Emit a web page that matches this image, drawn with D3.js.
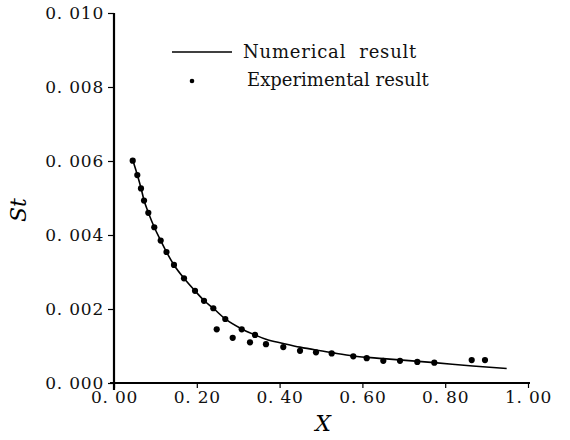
<!DOCTYPE html>
<html>
<head>
<meta charset="utf-8">
<script src="https://cdn.jsdelivr.net/npm/d3@7"></script>
<style>
  body { margin: 0; background: #fff; }
  svg text { font-family: "DejaVu Serif", "Liberation Serif", serif; }
</style>
</head>
<body>
<div id="vis"></div>
<script>
// numerical result (solid line)
const numX = [0.0452, 0.0563, 0.0652, 0.0725, 0.0829, 0.0973, 0.1128, 0.1268, 0.1449, 0.1691,
    0.1957, 0.2174, 0.2399, 0.2688, 0.3085, 0.3406, 0.3671, 0.4089, 0.4493, 0.4879,
    0.5258, 0.578, 0.6505, 0.7737, 0.8664, 0.9485];
const numY = [0.00603, 0.00563, 0.00527, 0.00494, 0.00461, 0.00421, 0.00385, 0.00354, 0.00319, 0.00283,
    0.00249, 0.00223, 0.00202, 0.00173, 0.00146, 0.00130, 0.00118, 0.00107, 0.00097, 0.00089,
    0.00082, 0.00073, 0.00066, 0.00055, 0.00046, 0.00039];

// experimental result (dots)
const expX = [0.0452, 0.0563, 0.0652, 0.0725, 0.0829, 0.0973, 0.1128, 0.1268, 0.1449, 0.1691,
    0.1957, 0.2174, 0.2399, 0.2688, 0.3085, 0.3406, 0.2481, 0.2867, 0.3285, 0.3671,
    0.4089, 0.4493, 0.4879, 0.5258, 0.578, 0.6104, 0.6505, 0.6908, 0.7326, 0.7737,
    0.864, 0.8961];
const expY = [0.00601, 0.00562, 0.00526, 0.00493, 0.00460, 0.00421, 0.00385, 0.00354, 0.00319, 0.00283,
    0.00249, 0.00222, 0.00202, 0.00173, 0.00145, 0.00130, 0.00145, 0.00122, 0.00110, 0.00105,
    0.00097, 0.00087, 0.00083, 0.00080, 0.00072, 0.00067, 0.00060, 0.00060, 0.00057, 0.00055,
    0.00062, 0.00062];

const xTicks = [0, 0.2, 0.4, 0.6, 0.8, 1.0];
const xTickLabels = ["0. 00", "0. 20", "0. 40", "0. 60", "0. 80", "1. 00"];
const yTicks = [0, 0.002, 0.004, 0.006, 0.008, 0.010];
const yTickLabels = ["0. 000", "0. 002", "0. 004", "0. 006", "0. 008", "0. 010"];

const legendLabels = ["Numerical  result", "Experimental result"];

const serif = "'DejaVu Serif', 'Liberation Serif', serif";

const svg = d3.select("#vis")
    .append("svg")
    .attr("width", 570)
    .attr("height", 440);

const x = d3.scaleLinear().domain([0, 1]).range([114, 528]);
const y = d3.scaleLinear().domain([0, 0.010]).range([383, 13]);

// axes
const xAxis = svg.append("g")
    .attr("transform", "translate(0," + y(0) + ")")
    .call(d3.axisBottom(x)
        .tickValues(xTicks)
        .tickFormat((d, i) => xTickLabels[i])
        .tickSize(5)
        .tickPadding(3));

const yAxis = svg.append("g")
    .attr("transform", "translate(" + x(0) + ",0)")
    .call(d3.axisLeft(y)
        .tickValues(yTicks)
        .tickFormat((d, i) => yTickLabels[i])
        .tickSize(6)
        .tickPadding(5));

svg.selectAll(".domain").remove();
svg.selectAll("g").attr("font-family", serif);
svg.selectAll(".tick line").attr("stroke", "#000").attr("stroke-width", 1.2);
svg.selectAll(".tick text")
    .attr("fill", "#111")
    .style("font-family", serif)
    .style("font-size", "17px")
    .style("letter-spacing", "0.8px")
    .style("white-space", "pre");

xAxis.selectAll(".tick text").attr("dy", "0.72em");
yAxis.selectAll(".tick text").attr("dx", "1px");

// axis lines, slightly crossing at the origin
svg.append("line")
    .attr("x1", x(0)).attr("x2", x(0))
    .attr("y1", y(0.010)).attr("y2", y(0) + 7)
    .attr("stroke", "#000").attr("stroke-width", 2.2);

svg.append("line")
    .attr("x1", x(0) - 4).attr("x2", x(1) + 2)
    .attr("y1", y(0)).attr("y2", y(0))
    .attr("stroke", "#000").attr("stroke-width", 2.2);

// numerical curve
const numData = numX.map((d, i) => [d, numY[i]]);
const line = d3.line()
    .x(d => x(d[0]))
    .y(d => y(d[1]))
    .curve(d3.curveMonotoneX);

svg.append("path")
    .datum(numData)
    .attr("d", line)
    .attr("fill", "none")
    .attr("stroke", "#000")
    .attr("stroke-width", 1.6);

// experimental dots
const expData = expX.map((d, i) => [d, expY[i]]);
svg.append("g")
    .selectAll("circle")
    .data(expData)
    .enter()
    .append("circle")
    .attr("cx", d => x(d[0]))
    .attr("cy", d => y(d[1]))
    .attr("r", 3.1)
    .attr("fill", "#000");

// axis titles
svg.append("text")
    .attr("x", 323)
    .attr("y", 431)
    .attr("text-anchor", "middle")
    .style("font-family", serif)
    .style("font-size", "22px")
    .style("font-style", "italic")
    .text("X");

svg.append("text")
    .attr("transform", "translate(26,210) rotate(-90)")
    .attr("text-anchor", "middle")
    .style("font-family", serif)
    .style("font-size", "22px")
    .style("font-style", "italic")
    .text("St");

// legend
svg.append("line")
    .attr("x1", 172).attr("x2", 232)
    .attr("y1", 52).attr("y2", 52)
    .attr("stroke", "#000").attr("stroke-width", 1.5);

svg.append("text")
    .attr("x", 243)
    .attr("y", 58)
    .style("font-family", serif)
    .style("font-size", "18px")
    .style("letter-spacing", "0.8px")
    .style("white-space", "pre")
    .attr("fill", "#111")
    .text(legendLabels[0]);

svg.append("circle")
    .attr("cx", 192)
    .attr("cy", 81)
    .attr("r", 2.3)
    .attr("fill", "#000");

svg.append("text")
    .attr("x", 247)
    .attr("y", 85.5)
    .style("font-family", serif)
    .style("font-size", "18px")
    .attr("fill", "#111")
    .text(legendLabels[1]);
</script>
</body>
</html>
